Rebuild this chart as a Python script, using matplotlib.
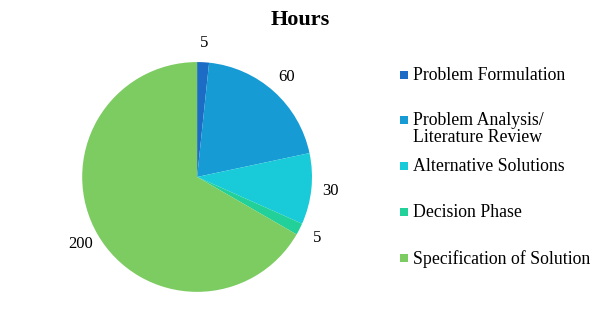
import matplotlib.pyplot as plt
from matplotlib.patches import Rectangle

categories = ["Problem Formulation", "Problem Analysis/\nLiterature Review",
              "Alternative Solutions", "Decision Phase", "Specification of Solution"]
hours = [5, 60, 30, 5, 200]
colors = ["#1c6bc4", "#169bd5", "#19cbd8", "#22d09a", "#7ccc62"]

# legend rows (pixel y of the first text line)
legend_y = [75, 120, 166, 212, 258]

plt.rcParams["font.family"] = ["Liberation Serif", "DejaVu Serif"]

fig = plt.figure(figsize=(6, 3.2), dpi=100)
ax = fig.add_axes([0.137, 0.0875, 0.383, 0.719])
ax.pie(hours, labels=[str(h) for h in hours], colors=colors, startangle=90,
       counterclock=False, labeldistance=1.17,
       textprops={"fontsize": 12, "ha": "center", "va": "center"},
       wedgeprops={"linewidth": 0})
ax.set_xlim(-1, 1)
ax.set_ylim(-1, 1)
ax.set_aspect("equal")

fig.text(0.5, 0.937, "Hours", ha="center", va="center", fontsize=16, fontweight="bold")

W, H = 600, 320
for name, c, y in zip(categories, colors, legend_y):
    fig.patches.append(Rectangle((400 / W, (H - y - 4) / H), 8 / W, 8 / H,
                                 transform=fig.transFigure, facecolor=c, edgecolor="none"))
    fig.text(413 / W, (H - y + 8) / H, name, ha="left", va="top", fontsize=12.8,
             linespacing=1.0)

fig.savefig("out.png", dpi=100)
